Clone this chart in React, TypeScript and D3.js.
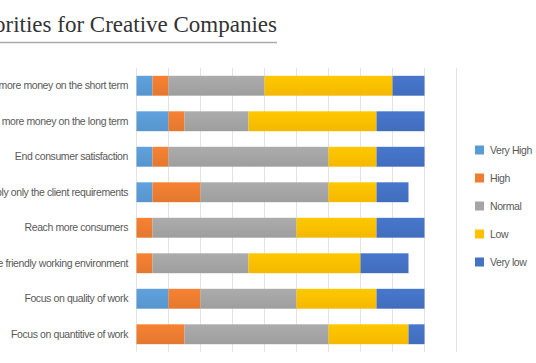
import * as React from 'react';
import * as d3 from 'd3';

const width = 536;
const height = 363;

const categories = [
  'Making more money on the short term',
  'Making more money on the long term',
  'End consumer satisfaction',
  'Apply only the client requirements',
  'Reach more consumers',
  'Create friendly working environment',
  'Focus on quality of work',
  'Focus on quantitive of work'
];

const seriesNames = ['Very High', 'High', 'Normal', 'Low', 'Very low'];
const seriesColors = ['#5B9BD5', '#ED7D31', '#A5A5A5', '#FFC000', '#4472C4'];

const veryHigh = [1, 2, 1, 1, 0, 0, 2, 0];
const high = [1, 1, 1, 3, 1, 1, 2, 3];
const normal = [6, 4, 10, 8, 9, 6, 6, 9];
const low = [8, 8, 3, 3, 5, 7, 5, 5];
const veryLow = [2, 3, 3, 2, 3, 3, 3, 1];

const xTicks = d3.range(0, 21, 2);

const rows = categories.map((name, i) => ({
  name,
  'Very High': veryHigh[i],
  'High': high[i],
  'Normal': normal[i],
  'Low': low[i],
  'Very low': veryLow[i]
}));

const x = d3.scaleLinear().domain([0, 20]).range([136.5, 456.5]);
const y = d3.scaleBand().domain(categories).range([68, 352]).paddingInner(0.44).paddingOuter(0.22);

const stacked = d3.stack<any>().keys(seriesNames)(rows);

export default function App() {
  return (
    <svg width={width} height={height} style={{position: 'absolute', left: 0, top: 0}}>
      <defs>
        {seriesColors.map((c, i) => (
          <linearGradient key={i} id={`g${i}`} x1="0" y1="0" x2="0" y2="1">
            <stop offset="0%" stopColor={d3.color(c)!.brighter(0.12).toString()} />
            <stop offset="100%" stopColor={d3.color(c)!.darker(0.12).toString()} />
          </linearGradient>
        ))}
      </defs>
      <rect width={width} height={height} fill="#fff" />

      <text x={277} y={32} textAnchor="end" fontFamily="'Liberation Serif', serif" fontSize={23} fill="#333">
        Priorities for Creative Companies
      </text>
      <line x1={0} x2={277} y1={42.5} y2={42.5} stroke="#aaa" strokeWidth={1.5} />

      <g>
        {xTicks.map(t => (
          <line key={t} x1={x(t)} x2={x(t)} y1={68} y2={352} stroke="#e3e3e3" strokeWidth={1} />
        ))}
      </g>

      <g>
        {stacked.map((s, si) => (
          <g key={s.key} fill={`url(#g${si})`}>
            {s.map((d, i) => (d[1] > d[0] ? (
              <rect key={i} x={x(d[0])} width={x(d[1]) - x(d[0])} y={y(categories[i])} height={y.bandwidth()} />
            ) : null))}
          </g>
        ))}
      </g>

      <g fontFamily="'Liberation Sans', Arial, sans-serif" fontSize={10.5} letterSpacing={-0.4} fill="#595959" textAnchor="end">
        {categories.map(c => (
          <text key={c} x={128} y={y(c)! + y.bandwidth() / 2} dy="0.35em">{c}</text>
        ))}
      </g>

      <g fontFamily="'Liberation Sans', Arial, sans-serif" fontSize={10.5} letterSpacing={-0.4} fill="#595959">
        {seriesNames.map((n, i) => (
          <g key={n} transform={`translate(475,${150 + i * 28})`}>
            <rect x={0} y={-4.5} width={9} height={9} fill={seriesColors[i]} />
            <text x={15} y={0} dy="0.35em">{n}</text>
          </g>
        ))}
      </g>
    </svg>
  );
}
